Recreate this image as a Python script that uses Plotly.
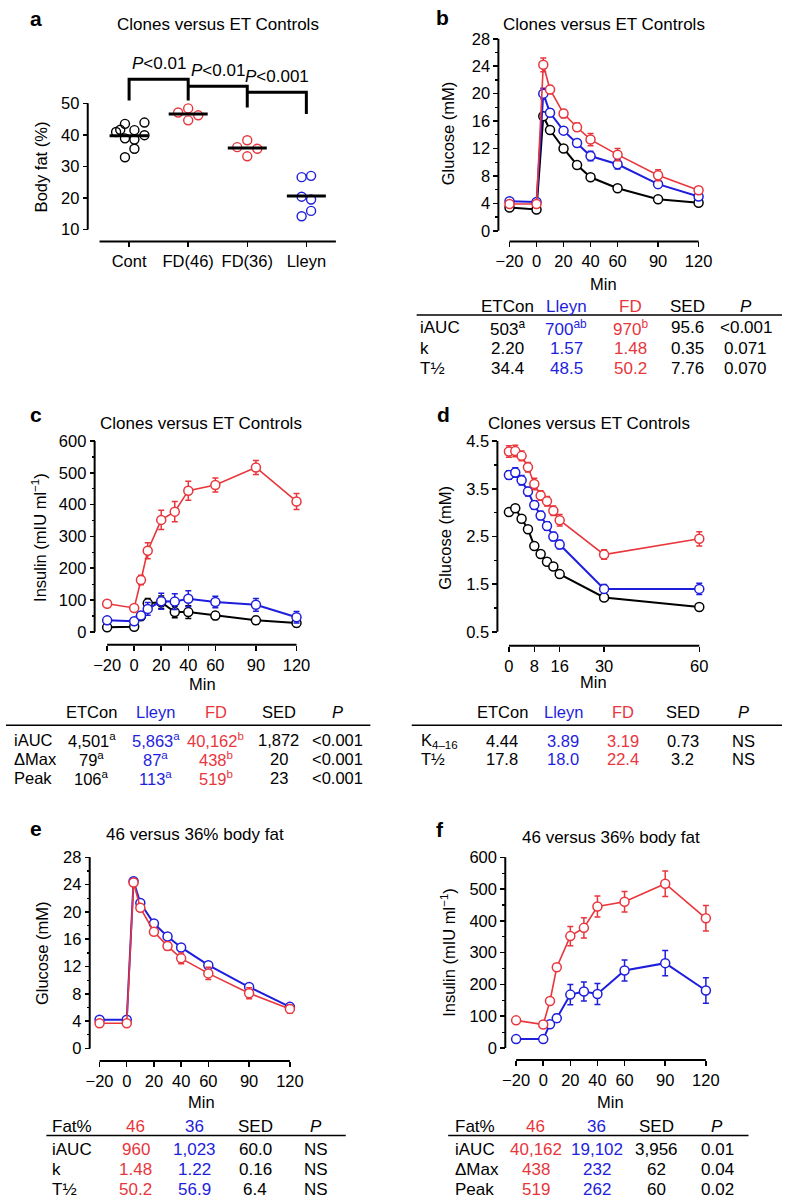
import plotly.graph_objects as go

W, H = 788, 1204
RED = '#E8363C'
BLUE = '#1E1EDC'
BLACK = '#000000'
FONT = 'Liberation Sans, Arial, Helvetica, sans-serif'

# ---------------- data ----------------
# (a) body fat (%)
fat_groups = ['Cont', 'FD(46)', 'FD(36)', 'Lleyn']
fat_cont = [43.5, 43.9, 40.9, 41.6, 41.5, 39.9, 38.9, 38.5, 35.6, 32.9]
fat_cont_jitter = [-0.07, 0.26, -0.22, -0.15, 0.09, 0.26, -0.07, 0.09, 0.09, -0.07]
fat_fd46 = [47.1, 48.4, 46.2, 44.6]
fat_fd46_jitter = [-0.17, 0.0, 0.17, 0.0]
fat_fd36 = [36.1, 38.3, 35.6, 33.2]
fat_fd36_jitter = [-0.17, 0.0, 0.17, 0.0]
fat_lleyn = [26.6, 27.0, 20.4, 19.5, 15.9, 14.2]
fat_lleyn_jitter = [-0.08, 0.08, -0.08, 0.08, 0.08, -0.08]
fat_means = [39.7, 46.6, 35.8, 20.6]
p_labels = ['<i>P</i>&lt;0.01', '<i>P</i>&lt;0.01', '<i>P</i>&lt;0.001']
bracket_top = [57.6, 55.4, 53.5]
bracket_left_end = [50.9, 55.4, 53.5]
bracket_right_end = [50.9, 48.7, 46.6]

# (b) glucose tolerance, clones vs ET controls
t_gtt = [-20, 0, 5, 10, 20, 30, 40, 60, 90, 120]
b_etcon = [3.4, 3.1, 16.7, 14.7, 12.0, 9.6, 7.8, 6.2, 4.6, 4.1]
b_etcon_err = [0.2, 0.2, 0.4, 0.3, 0.3, 0.3, 0.4, 0.4, 0.3, 0.2]
b_lleyn = [4.3, 4.2, 20.0, 17.2, 14.6, 12.8, 10.9, 9.7, 6.8, 5.0]
b_lleyn_err = [0.1, 0.1, 0.8, 0.5, 0.5, 0.5, 0.7, 0.7, 0.5, 0.3]
b_fd = [3.9, 3.9, 24.2, 20.6, 17.1, 15.1, 13.3, 11.1, 8.1, 5.9]
b_fd_err = [0.2, 0.2, 1.0, 0.6, 0.6, 0.6, 0.9, 0.9, 0.8, 0.5]

# (c) insulin, clones vs ET controls
c_etcon = [14, 16, 49, 90, 93, 62, 62, 51, 36, 28]
c_etcon_err = [5, 5, 10, 15, 20, 18, 20, 12, 12, 12]
c_lleyn = [36, 33, 51, 72, 96, 95, 104, 94, 85, 46]
c_lleyn_err = [5, 5, 10, 20, 25, 25, 25, 18, 20, 18]
c_fd = [88, 75, 163, 255, 352, 378, 444, 462, 517, 410]
c_fd_err = [5, 5, 15, 25, 30, 32, 30, 22, 22, 25]

# (d) insulin tolerance glucose
t_itt = [0, 2, 4, 6, 8, 10, 12, 14, 16, 30, 60]
d_etcon = [3.01, 3.09, 2.87, 2.65, 2.30, 2.13, 1.97, 1.87, 1.71, 1.22, 1.02]
d_etcon_err = [0.07, 0.07, 0.06, 0.06, 0.06, 0.06, 0.06, 0.06, 0.06, 0.05, 0.07]
d_lleyn = [3.79, 3.84, 3.68, 3.44, 3.16, 2.94, 2.72, 2.50, 2.33, 1.40, 1.40]
d_lleyn_err = [0.09, 0.1, 0.1, 0.09, 0.09, 0.09, 0.09, 0.09, 0.09, 0.09, 0.12]
d_fd = [4.28, 4.29, 4.19, 3.95, 3.60, 3.36, 3.24, 3.04, 2.84, 2.12, 2.45]
d_fd_err = [0.12, 0.12, 0.1, 0.1, 0.12, 0.1, 0.1, 0.1, 0.12, 0.1, 0.15]

# (e) glucose, 46 vs 36 % body fat
e_46 = [3.7, 3.7, 24.3, 20.6, 17.1, 15.0, 13.2, 11.0, 8.1, 5.8]
e_46_err = [0.2, 0.2, 0.5, 0.5, 0.5, 0.6, 0.8, 0.9, 0.8, 0.6]
e_36 = [4.2, 4.2, 24.5, 21.3, 18.3, 16.4, 14.8, 12.2, 9.0, 6.1]
e_36_err = [0.1, 0.1, 0.3, 0.3, 0.3, 0.3, 0.3, 0.3, 0.4, 0.3]

# (f) insulin, 46 vs 36 % body fat
f_46 = [87, 74, 148, 254, 352, 378, 445, 460, 517, 408]
f_46_err = [5, 5, 10, 10, 30, 32, 33, 32, 40, 40]
f_36 = [28, 28, 75, 94, 168, 178, 170, 244, 267, 181]
f_36_err = [5, 5, 8, 12, 32, 30, 33, 33, 40, 40]

# tick labels
min_ticks = [-20, 0, 20, 40, 60, 90, 120]
itt_ticks = [0, 8, 16, 30, 60]
glu_ticks = [0, 4, 8, 12, 16, 20, 24, 28]
glu_minor = [2, 6, 10, 14, 18, 22, 26]
ins_ticks = [0, 100, 200, 300, 400, 500, 600]
ins_minor = [50, 150, 250, 350, 450, 550]
itt_glu_ticks = [0.5, 1.5, 2.5, 3.5, 4.5]
itt_glu_minor = [1, 2, 3, 4]
fat_ticks = [10, 20, 30, 40, 50]

# tables
tab_b_header = ['', 'ETCon', 'Lleyn', 'FD', 'SED', '<i>P</i>']
tab_b_rows = [
    ['iAUC', '503<sup>a</sup>', '700<sup>ab</sup>', '970<sup>b</sup>', '95.6', '&lt;0.001'],
    ['k', '2.20', '1.57', '1.48', '0.35', '0.071'],
    ['T½', '34.4', '48.5', '50.2', '7.76', '0.070'],
]
tab_c_header = ['', 'ETCon', 'Lleyn', 'FD', 'SED', '<i>P</i>']
tab_c_rows = [
    ['iAUC', '4,501<sup>a</sup>', '5,863<sup>a</sup>', '40,162<sup>b</sup>', '1,872', '&lt;0.001'],
    ['ΔMax', '79<sup>a</sup>', '87<sup>a</sup>', '438<sup>b</sup>', '20', '&lt;0.001'],
    ['Peak', '106<sup>a</sup>', '113<sup>a</sup>', '519<sup>b</sup>', '23', '&lt;0.001'],
]
tab_d_header = ['', 'ETCon', 'Lleyn', 'FD', 'SED', '<i>P</i>']
tab_d_rows = [
    ['K<sub>4–16</sub>', '4.44', '3.89', '3.19', '0.73', 'NS'],
    ['T½', '17.8', '18.0', '22.4', '3.2', 'NS'],
]
tab_e_header = ['Fat%', '46', '36', 'SED', '<i>P</i>']
tab_e_rows = [
    ['iAUC', '960', '1,023', '60.0', 'NS'],
    ['k', '1.48', '1.22', '0.16', 'NS'],
    ['T½', '50.2', '56.9', '6.4', 'NS'],
]
tab_f_header = ['Fat%', '46', '36', 'SED', '<i>P</i>']
tab_f_rows = [
    ['iAUC', '40,162', '19,102', '3,956', '0.01'],
    ['ΔMax', '438', '232', '62', '0.04'],
    ['Peak', '519', '262', '60', '0.02'],
]

# ---------------- helpers ----------------
def px_x(p):
    return p / W


def px_y(p):
    return 1 - p / H


def dom_x(cal, r):
    v0, p0, v1, p1 = cal
    s = (p1 - p0) / (v1 - v0)
    return [(p0 + (r[0] - v0) * s) / W, (p0 + (r[1] - v0) * s) / W]


def dom_y(cal, r):
    v0, p0, v1, p1 = cal
    s = (p1 - p0) / (v1 - v0)
    a = 1 - (p0 + (r[0] - v0) * s) / H
    b = 1 - (p0 + (r[1] - v0) * s) / H
    return [min(a, b), max(a, b)]


fig = go.Figure()
annotations = []
shapes = []
TICK = 16.5
TXT = 17


def ann(text, x, y, size=TXT, color=BLACK, xanchor='center', yanchor='middle', angle=0, xref='paper',
        yref='paper', yshift=0):
    annotations.append(dict(text=text, x=x, y=y, xref=xref, yref=yref, showarrow=False,
                            xanchor=xanchor, yanchor=yanchor, textangle=angle, yshift=yshift,
                            font=dict(family=FONT, size=size, color=color)))


panels = [
    dict(id=1, xr=[0.4, 4.6], xc=(1, 125, 4, 305), yr=[5, 63], yc=(50, 100, 10, 227), ypos=83, xpos=239,
         xline=(0.5, 4.5), yline=(10, 50), xt=[1, 2, 3, 4], xtt=fat_groups, yt=fat_ticks, ym=None),
    dict(id=2, xr=[-26, 126], xc=(-20, 511.3, 120, 703.3), yr=[-1, 29], yc=(28, 35, 0, 228.3), ypos=500, xpos=239,
         xline=(-20, 120), yline=(0, 28), xt=min_ticks, xtt=None, yt=glu_ticks, ym=glu_minor),
    dict(id=3, xr=[-26, 126], xc=(-20, 102.7, 120, 295), yr=[-20, 620], yc=(600, 440, 0, 632), ypos=90, xpos=645,
         xline=(-20, 120), yline=(0, 600), xt=min_ticks, xtt=None, yt=ins_ticks, ym=ins_minor),
    dict(id=4, xr=[-2.5, 62.5], xc=(0, 510.7, 60, 704), yr=[0.4, 4.6], yc=(4.5, 440, 0.5, 632), ypos=499, xpos=646,
         xline=(0, 60), yline=(0.5, 4.5), xt=itt_ticks, xtt=None, yt=itt_glu_ticks, ym=itt_glu_minor),
    dict(id=5, xr=[-26, 126], xc=(-20, 95, 120, 288.3), yr=[-1, 29], yc=(28, 859, 4, 1024), ypos=85, xpos=1064,
         xline=(-20, 120), yline=(0, 28), xt=min_ticks, xtt=None, yt=glu_ticks, ym=glu_minor),
    dict(id=6, xr=[-26, 126], xc=(-20, 518, 120, 710.7), yr=[-20, 620], yc=(600, 859, 100, 1019), ypos=507, xpos=1063,
         xline=(-20, 120), yline=(0, 600), xt=min_ticks, xtt=None, yt=ins_ticks, ym=ins_minor),
]

layout_axes = {}
for p in panels:
    i = p['id']
    sx = '' if i == 1 else str(i)
    tickfont = dict(family=FONT, size=TICK, color=BLACK)
    xa = dict(domain=dom_x(p['xc'], p['xr']), range=p['xr'], anchor='free', position=px_y(p['xpos']),
              showline=False, showgrid=False, zeroline=False, ticks='outside', ticklen=5, tickwidth=1.5,
              tickcolor=BLACK, tickmode='array', tickvals=p['xt'], tickfont=tickfont)
    if p['xtt'] is not None:
        xa['ticktext'] = p['xtt']
    ya = dict(domain=dom_y(p['yc'], p['yr']), range=p['yr'], anchor='free', position=px_x(p['ypos']),
              showline=False, showgrid=False, zeroline=False, ticks='outside', ticklen=5, tickwidth=1.5,
              tickcolor=BLACK, tickmode='array', tickvals=p['yt'], tickfont=tickfont)
    if p['ym'] is not None:
        ya['minor'] = dict(tickmode='array', tickvals=p['ym'], ticks='outside', ticklen=3, tickwidth=1.2,
                           tickcolor=BLACK, showgrid=False)
    layout_axes['xaxis' + sx] = xa
    layout_axes['yaxis' + sx] = ya
    # detached axis lines
    shapes.append(dict(type='line', xref='paper', yref='y' + sx, x0=px_x(p['ypos']), x1=px_x(p['ypos']),
                       y0=p['yline'][0], y1=p['yline'][1], line=dict(color=BLACK, width=2)))
    shapes.append(dict(type='line', xref='x' + sx, yref='paper', x0=p['xline'][0], x1=p['xline'][1],
                       y0=px_y(p['xpos']), y1=px_y(p['xpos']), line=dict(color=BLACK, width=2)))

# ---------------- panel a ----------------
fat_sets = [(fat_cont, fat_cont_jitter, BLACK), (fat_fd46, fat_fd46_jitter, RED),
            (fat_fd36, fat_fd36_jitter, RED), (fat_lleyn, fat_lleyn_jitter, BLUE)]
for gi, (vals, jit, col) in enumerate(fat_sets):
    pos = gi + 1
    fig.add_trace(go.Scatter(x=[pos + j for j in jit], y=vals, mode='markers', xaxis='x', yaxis='y',
                             marker=dict(symbol='circle-open', size=9, color=col, line=dict(width=1.4, color=col)),
                             cliponaxis=False, showlegend=False))
    fig.add_trace(go.Scatter(x=[pos - 0.33, pos + 0.33], y=[fat_means[gi], fat_means[gi]], mode='lines',
                             xaxis='x', yaxis='y', line=dict(color=BLACK, width=3), showlegend=False))

for bi in range(3):
    xl, xr_ = bi + 1, bi + 2
    fig.add_trace(go.Scatter(x=[xl, xl, xr_, xr_],
                             y=[bracket_left_end[bi], bracket_top[bi], bracket_top[bi], bracket_right_end[bi]],
                             mode='lines', xaxis='x', yaxis='y', line=dict(color=BLACK, width=3),
                             showlegend=False))
    ann(p_labels[bi], (xl + xr_) / 2, bracket_top[bi], size=TXT, xanchor='center', yanchor='bottom',
        xref='x', yref='y', yshift=4)


# ---------------- line panels ----------------
def series(ax, x, y, err, col, width):
    fig.add_trace(go.Scatter(
        x=x, y=y, mode='lines+markers', xaxis='x' + ax, yaxis='y' + ax,
        line=dict(color=col, width=width),
        marker=dict(symbol='circle', size=9, color='white', line=dict(color=col, width=1.5)),
        error_y=dict(type='data', array=err, visible=True, color=col, thickness=1.5, width=3),
        cliponaxis=False, showlegend=False))


series('2', t_gtt, b_etcon, b_etcon_err, BLACK, 2)
series('2', t_gtt, b_lleyn, b_lleyn_err, BLUE, 2)
series('2', t_gtt, b_fd, b_fd_err, RED, 1.6)

series('3', t_gtt, c_etcon, c_etcon_err, BLACK, 2)
series('3', t_gtt, c_lleyn, c_lleyn_err, BLUE, 2)
series('3', t_gtt, c_fd, c_fd_err, RED, 1.6)

series('4', t_itt, d_etcon, d_etcon_err, BLACK, 2)
series('4', t_itt, d_lleyn, d_lleyn_err, BLUE, 2)
series('4', t_itt, d_fd, d_fd_err, RED, 1.6)

series('5', t_gtt, e_36, e_36_err, BLUE, 2)
series('5', t_gtt, e_46, e_46_err, RED, 1.6)

series('6', t_gtt, f_36, f_36_err, BLUE, 2)
series('6', t_gtt, f_46, f_46_err, RED, 1.6)

# ---------------- titles, letters, axis titles ----------------
for letter, x, y in [('a', 30, 15), ('b', 443, 14), ('c', 30, 413), ('d', 444, 413), ('e', 30, 830), ('f', 441, 831)]:
    ann('<b>' + letter + '</b>', px_x(x), px_y(y), size=21)

for text, x, y in [('Clones versus ET Controls', 215, 21), ('Clones versus ET Controls', 607, 21),
                   ('Clones versus ET Controls', 198, 422), ('Clones versus ET Controls', 592, 422),
                   ('46 versus 36% body fat', 192, 836), ('46 versus 36% body fat', 614, 839)]:
    ann(text, px_x(x), px_y(y), size=TXT)

for text, x, y in [('Body fat (%)', 35, 164), ('Glucose (mM)', 449, 130),
                   ('Insulin (mIU ml<sup>−1</sup>)', 34, 537), ('Glucose (mM)', 446, 537),
                   ('Glucose (mM)', 36, 955), ('Insulin (mIU ml<sup>−1</sup>)', 449, 955)]:
    ann(text, px_x(x), px_y(y), size=TICK, angle=-90)

for x, y in [(607, 282), (200, 685), (597, 683), (199, 1105), (614, 1105)]:
    ann('Min', px_x(x), px_y(y), size=TICK)


# ---------------- tables ----------------
def table(header, rows, colors, label_x, col_x, header_y, line_y, line_x0, line_x1, row_y, size=TXT):
    for ci, h in enumerate(header):
        if ci == 0:
            if h:
                ann(h, px_x(label_x), px_y(header_y), xanchor='left', color=colors[0], size=size)
        else:
            ann(h, px_x(col_x[ci - 1]), px_y(header_y), color=colors[ci], size=size)
    shapes.append(dict(type='line', xref='paper', yref='paper', x0=px_x(line_x0), x1=px_x(line_x1),
                       y0=px_y(line_y), y1=px_y(line_y), line=dict(color=BLACK, width=1.5)))
    for ri, row in enumerate(rows):
        for ci, cell in enumerate(row):
            if ci == 0:
                ann(cell, px_x(label_x), px_y(row_y[ri]), xanchor='left', color=colors[0], size=size)
            else:
                ann(cell, px_x(col_x[ci - 1]), px_y(row_y[ri]), color=colors[ci], size=size)


three_cols = [BLACK, BLACK, BLUE, RED, BLACK, BLACK]
fat_cols = [BLACK, RED, BLUE, BLACK, BLACK]
table(tab_b_header, tab_b_rows, three_cols, 418, [509, 569, 634, 692, 751], 305, 313, 417, 788, [326, 347, 367])
table(tab_c_header, tab_c_rows, three_cols, 6, [87, 152, 213, 277, 337], 713, 726, 0, 370, [741, 760, 779],
      size=16.5)
table(tab_d_header, tab_d_rows, three_cols, 419, [504, 566, 627, 687, 749], 713, 726, 412, 788, [742, 760],
      size=16.5)
table(tab_e_header, tab_e_rows, fat_cols, 45, [132, 191, 253, 315], 1130, 1139, 41, 345, [1153, 1173, 1193])
table(tab_f_header, tab_f_rows, fat_cols, 454, [538, 600, 661, 722], 1130, 1139, 449, 754, [1153, 1173, 1193])

fig.update_layout(width=W, height=H, margin=dict(l=0, r=0, t=0, b=0), paper_bgcolor='white',
                  plot_bgcolor='white', showlegend=False, annotations=annotations, shapes=shapes,
                  hovermode=False, font=dict(family=FONT, size=16, color=BLACK), **layout_axes)

fig.write_html('out.html', config={'displayModeBar': False, 'staticPlot': True},
               post_script="document.body.style.margin='0px';document.body.style.overflow='hidden';")
